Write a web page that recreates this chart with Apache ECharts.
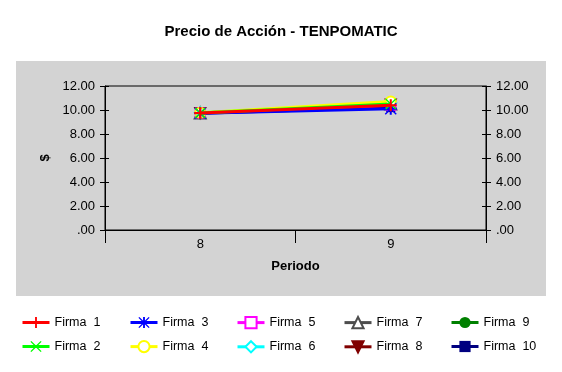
<!DOCTYPE html>
<html><head><meta charset="utf-8">
<script src="https://cdn.jsdelivr.net/npm/echarts@6/dist/echarts.min.js"></script>
<style>html,body{margin:0;padding:0;background:#fff}#c{width:562px;height:372px}</style>
</head><body><div id="c"></div>
<script>
var periods = ['8', '9'];
var seriesNames = ['Firma  1','Firma  2','Firma  3','Firma  4','Firma  5','Firma  6','Firma  7','Firma  8','Firma  9','Firma  10'];
var firma1 = [9.75, 10.40];
var firma2 = [9.75, 10.50];
var firma3 = [9.72, 10.10];
var firma4 = [9.78, 10.70];
var firma5 = [9.75, 10.40];
var firma6 = [9.78, 10.60];
var firma7 = [9.75, 10.50];
var firma8 = [9.75, 10.45];
var firma9 = [9.75, 10.50];
var firma10 = [9.72, 10.20];
var yTicks = [0, 2, 4, 6, 8, 10, 12];

var allData = [firma1,firma2,firma3,firma4,firma5,firma6,firma7,firma8,firma9,firma10];
var colors = ['#FF0000','#00FF00','#0000FF','#FFFF00','#FF00FF','#00FFFF','#4D4D4D','#800000','#008000','#000080'];
var plus = 'path://M5,0H7V5H12V7H7V12H5V7H0V5H5Z';
var cross = 'path://M1,0L6,5L11,0L12,1L7,6L12,11L11,12L6,7L1,12L0,11L5,6L0,1Z';
var aster = 'path://M5,0H7V5H12V7H7V12H5V7H0V5H5Z M1,0L6,5L11,0L12,1L7,6L12,11L11,12L6,7L1,12L0,11L5,6L0,1Z';
var symbols = [plus, cross, aster, 'emptyCircle', 'emptyRect', 'emptyDiamond', 'emptyTriangle', 'path://M0,0L12,0L6,11Z', 'circle', 'rect'];
var sizes = [12, 11, 12, 10, 9, 11, 11, 10, 10, 9];
var zs = [12, 11, 10, 9, 8, 7, 6, 5, 4, 3];

var series = allData.map(function (d, i) {
  return {
    name: seriesNames[i], type: 'line', data: d,
    symbol: symbols[i], symbolSize: sizes[i], z: zs[i],
    lineStyle: { color: colors[i], width: 3 },
    itemStyle: { color: colors[i], borderColor: colors[i], borderWidth: (i >= 3 && i <= 7) ? 2 : 0 },
    emphasis: { disabled: true }, animation: false
  };
});

var fmt = function (v) { return v === 0 ? '.00' : v.toFixed(2); };
var font = 'Liberation Sans, Arial, sans-serif';
var legendLefts = [21, 129, 236, 343, 450];
var legends = legendLefts.map(function (l, k) {
  return {
    orient: 'vertical', left: l, top: 316, padding: 0, itemWidth: 27, itemHeight: 14, itemGap: 11,
    data: [seriesNames[2 * k], seriesNames[2 * k + 1]],
    lineStyle: { width: 3 },
    textStyle: { fontFamily: font, fontSize: 12.5, color: '#000', padding: [0, 0, 0, 0] },
    selectedMode: false
  };
});

var yBase = { type: 'value', min: 0, max: 12, interval: 2, splitLine: { show: false } };
var chart = echarts.init(document.getElementById('c'), null, { renderer: 'canvas' });
chart.setOption({
  animation: false,
  backgroundColor: '#fff',
  title: { text: 'Precio de Acción - TENPOMATIC', left: 'center', top: 24, padding: 0,
    textStyle: { fontFamily: font, fontSize: 15, fontWeight: 'bold', color: '#000' } },
  graphic: [{ type: 'rect', shape: { x: 16, y: 61, width: 530, height: 235 }, style: { fill: '#D3D3D3' }, z: -10, silent: true }],
  grid: { left: 105, right: 76, top: 86, bottom: 142, show: true, borderColor: '#000', borderWidth: 1, backgroundColor: 'transparent' },
  legend: legends,
  xAxis: {
    type: 'category', data: periods, boundaryGap: true,
    axisLine: { lineStyle: { color: '#000', width: 1 } },
    axisTick: { show: true, length: 13, lineStyle: { color: '#000' } },
    axisLabel: { fontFamily: font, fontSize: 13, color: '#000', margin: 8 },
    name: 'Periodo', nameLocation: 'middle', nameGap: 30,
    nameTextStyle: { fontFamily: font, fontSize: 13, fontWeight: 'bold', color: '#000' }
  },
  yAxis: [
    Object.assign({}, yBase, { position: 'left',
      axisLine: { show: true, lineStyle: { color: '#000' } },
      axisTick: { show: true, length: 5, lineStyle: { color: '#000' } },
      axisLabel: { fontFamily: font, fontSize: 13, color: '#000', margin: 10, formatter: fmt },
      name: '$', nameLocation: 'middle', nameGap: 49, nameRotate: 90,
      nameTextStyle: { fontFamily: font, fontSize: 13, fontWeight: 'bold', color: '#000' } }),
    Object.assign({}, yBase, { position: 'left',
      axisLine: { show: false }, axisTick: { show: true, inside: true, length: 4, lineStyle: { color: '#000' } },
      axisLabel: { show: false } }),
    Object.assign({}, yBase, { position: 'right',
      axisLine: { show: true, lineStyle: { color: '#000' } },
      axisTick: { show: true, length: 5, lineStyle: { color: '#000' } },
      axisLabel: { fontFamily: font, fontSize: 13, color: '#000', margin: 10, formatter: fmt } }),
    Object.assign({}, yBase, { position: 'right',
      axisLine: { show: false }, axisTick: { show: true, inside: true, length: 4, lineStyle: { color: '#000' } },
      axisLabel: { show: false } })
  ],
  series: series
});
</script></body></html>
